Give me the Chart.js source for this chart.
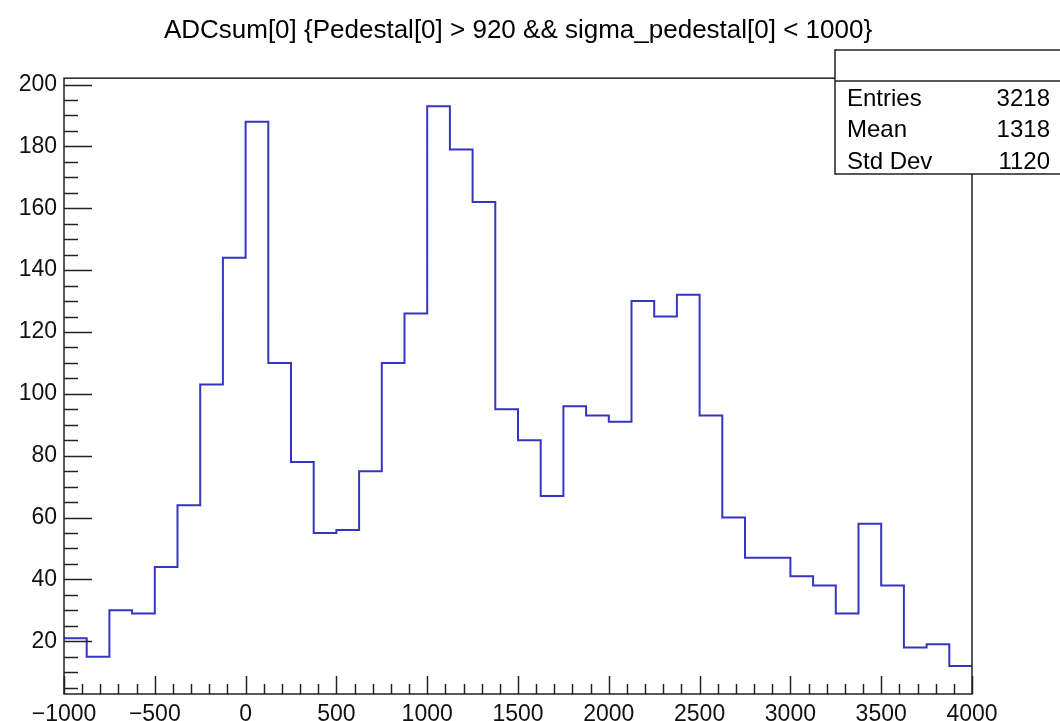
<!DOCTYPE html>
<html>
<head>
<meta charset="utf-8">
<script src="https://cdn.jsdelivr.net/npm/chart.js@4.4.1/dist/chart.umd.min.js"></script>
<style>
  html, body { margin: 0; padding: 0; background: #fff; }
  canvas { display: block; }
</style>
</head>
<body>
<canvas id="histo" width="1060" height="721"></canvas>
<script>
// histogram binning and contents
const binLow = -1000;
const binWidth = 125;
const counts = [
    21, 15, 30, 29, 44, 64, 103, 144, 188, 110,
    78, 55, 56, 75, 110, 126, 193, 179, 162, 95,
    85, 67, 96, 93, 91, 130, 125, 132, 93, 60,
    47, 47, 41, 38, 29, 58, 38, 18, 19, 12
];

// axis labels
const xTickValues = [-1000, -500, 0, 500, 1000, 1500, 2000, 2500, 3000, 3500, 4000];
const yTickValues = [20, 40, 60, 80, 100, 120, 140, 160, 180, 200];

// stats box
const statLabels = ['Entries', 'Mean', 'Std Dev'];
const statValues = ['3218', '1318', '1120'];

const titleText = 'ADCsum[0] {Pedestal[0] > 920 && sigma_pedestal[0] < 1000}';

const FONT = 'Liberation Sans';
const FRAME_COLOR = '#222';

// one point at the left edge of every bin, plus one closing the last bin
const points = counts.map((c, i) => ({ x: binLow + i * binWidth, y: c }));
points.push({ x: binLow + counts.length * binWidth, y: counts[counts.length - 1] });

// ROOT style frame with inward ticks
const framePlugin = {
    id: 'rootFrame',
    afterDatasetsDraw(chart) {
        const { ctx, chartArea: a, scales } = chart;
        ctx.save();
        ctx.strokeStyle = FRAME_COLOR;
        ctx.lineWidth = 1.5;
        ctx.strokeRect(a.left, a.top, a.right - a.left, a.bottom - a.top);

        ctx.beginPath();
        // y ticks: major every 20, minor every 5
        for (let v = 5; v <= scales.y.max; v += 5) {
            if (v < scales.y.min) continue;
            const py = Math.round(scales.y.getPixelForValue(v)) + 0.5;
            const len = v % 20 === 0 ? 28 : 14;
            ctx.moveTo(a.left, py);
            ctx.lineTo(a.left + len, py);
        }
        // x ticks: major every 500, minor every 100
        for (let v = -1000; v <= 4000; v += 100) {
            const px = Math.round(scales.x.getPixelForValue(v)) + 0.5;
            const len = v % 500 === 0 ? 18 : 10;
            ctx.moveTo(px, a.bottom);
            ctx.lineTo(px, a.bottom - len);
        }
        ctx.stroke();
        ctx.restore();
    }
};

const statsPlugin = {
    id: 'statsBox',
    afterDraw(chart) {
        const ctx = chart.ctx;
        const x = 835, y = 50, w = 240, h = 124;
        ctx.save();
        ctx.fillStyle = '#fff';
        ctx.fillRect(x, y, w, h);
        ctx.strokeStyle = FRAME_COLOR;
        ctx.lineWidth = 1.5;
        ctx.strokeRect(x, y, w, h);
        ctx.beginPath();
        ctx.moveTo(x, 81);
        ctx.lineTo(x + w, 81);
        ctx.stroke();

        ctx.fillStyle = '#000';
        ctx.font = '24px "' + FONT + '"';
        ctx.textBaseline = 'alphabetic';
        statLabels.forEach((label, i) => {
            const by = 106 + i * 31.3;
            ctx.textAlign = 'left';
            ctx.fillText(label, 847, by);
            ctx.textAlign = 'right';
            ctx.fillText(statValues[i], 1050, by);
        });
        ctx.restore();
    }
};

const minusSign = v => String(v).replace('-', '\u2212');

new Chart(document.getElementById('histo'), {
    type: 'line',
    data: {
        datasets: [{
            data: points,
            stepped: 'before',
            borderColor: '#3535c0',
            borderWidth: 2,
            pointRadius: 0,
            fill: false
        }]
    },
    options: {
        responsive: false,
        devicePixelRatio: 1,
        animation: false,
        layout: { padding: { left: 0, right: 88, top: 0, bottom: 0 } },
        scales: {
            x: {
                type: 'linear',
                min: -1000,
                max: 4000,
                afterBuildTicks: s => { s.ticks = xTickValues.map(v => ({ value: v })); },
                afterFit: s => { s.height = 27; },
                grid: { display: false, drawTicks: false },
                border: { display: false },
                ticks: {
                    callback: minusSign,
                    autoSkip: false,
                    maxRotation: 0,
                    padding: 7,
                    color: '#111',
                    font: { family: FONT, size: 23 }
                }
            },
            y: {
                min: 2.95,
                max: 202.05,
                afterBuildTicks: s => { s.ticks = yTickValues.map(v => ({ value: v })); },
                afterFit: s => { s.width = 64; },
                grid: { display: false, drawTicks: false },
                border: { display: false },
                ticks: {
                    padding: 7,
                    color: '#111',
                    font: { family: FONT, size: 23 }
                }
            }
        },
        plugins: {
            legend: { display: false },
            tooltip: { enabled: false },
            title: {
                display: true,
                text: titleText,
                fullSize: false,
                color: '#000',
                font: { family: FONT, size: 26, weight: 'normal' },
                padding: { top: 15, bottom: 32 }
            }
        }
    },
    plugins: [framePlugin, statsPlugin]
});
</script>
</body>
</html>
